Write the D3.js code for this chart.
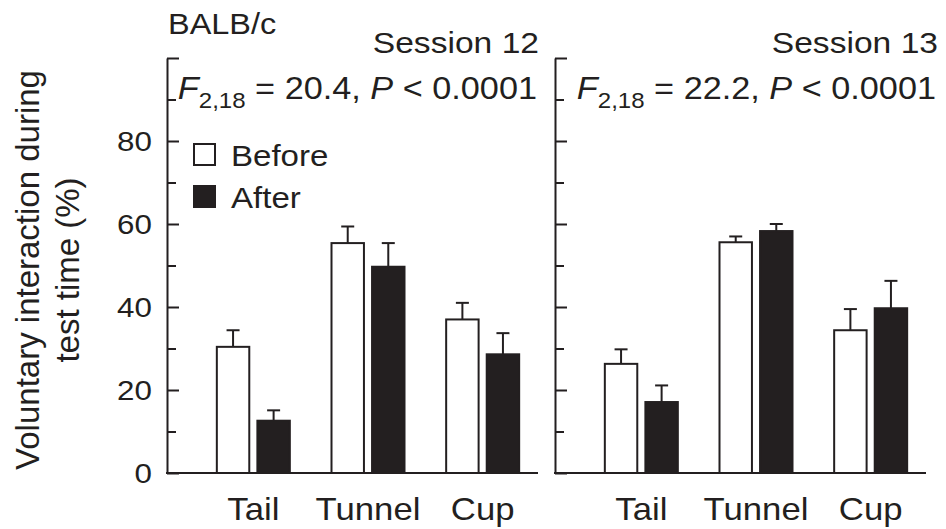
<!DOCTYPE html>
<html>
<head>
<meta charset="utf-8">
<script src="https://cdn.jsdelivr.net/npm/d3@7"></script>
<style>
  body { margin: 0; background: #fff; }
  svg { display: block; font-family: "Liberation Sans", Arial, Helvetica, sans-serif; }
</style>
</head>
<body>
<svg id="chart" width="946" height="529"></svg>
<script>
// Voluntary interaction (% of test time), mean + SEM, before vs after
const categories = ["Tail", "Tunnel", "Cup"];
const groups = ["Before", "After"];
const sessionTitles = ["Session 12", "Session 13"];
const statValues = ["20.4", "22.2"];

const session12Before = [30.4, 55.4, 37.0];
const session12After = [12.6, 49.7, 28.6];
const session12BeforeSem = [4.0, 4.0, 4.0];
const session12AfterSem = [2.5, 5.7, 5.1];

const session13Before = [26.3, 55.6, 34.4];
const session13After = [17.1, 58.3, 39.7];
const session13BeforeSem = [3.5, 1.4, 5.1];
const session13AfterSem = [4.0, 1.7, 6.6];

const majorTicks = [0, 20, 40, 60, 80, 100];
const minorTicks = [10, 30, 50, 70, 90];
const tickLabels = ["0", "20", "40", "60", "80", ""];

const INK = "#231f20";
const SX = 1.12; // horizontal text stretch

const svg = d3.select("#chart");

const panels = [
  { x0: 167, before: session12Before, after: session12After,
    beforeSem: session12BeforeSem, afterSem: session12AfterSem,
    title: sessionTitles[0], stat: statValues[0], textEnd: 539, labels: true },
  { x0: 555, before: session13Before, after: session13After,
    beforeSem: session13BeforeSem, afterSem: session13AfterSem,
    title: sessionTitles[1], stat: statValues[1], textEnd: 938, labels: false }
];

const panelWidth = 371;
const y = d3.scaleLinear().domain([0, 100]).range([473, 58]);

function stretchedText(g, x, yPos, anchor, size) {
  return g.append("text")
    .attr("transform", `translate(${x},${yPos}) scale(${SX},1)`)
    .attr("text-anchor", anchor)
    .attr("font-size", size)
    .attr("fill", INK);
}

panels.forEach(p => {
  const g = svg.append("g");

  const x0 = d3.scaleBand().domain(categories)
    .range([p.x0 + 29, p.x0 + 373]).padding(0);
  const x1 = d3.scaleBand().domain(groups)
    .range([-36.5, 36.5]).paddingInner(0.2).paddingOuter(0);

  // y axis: major ticks (inward)
  const major = d3.axisLeft(y).tickValues(majorTicks)
    .tickSize(-12).tickSizeOuter(0).tickPadding(0)
    .tickFormat((d, i) => p.labels ? tickLabels[i] : "");
  const ga = g.append("g").attr("transform", `translate(${p.x0},0)`).call(major);
  ga.select(".domain").attr("stroke", INK).attr("stroke-width", 2);
  ga.selectAll(".tick line").attr("stroke", INK).attr("stroke-width", 2);
  ga.selectAll(".tick text")
    .attr("x", 0).attr("dy", null)
    .attr("transform", `translate(-15,0) scale(${SX},1)`)
    .attr("dominant-baseline", "central")
    .attr("font-family", null)
    .attr("font-size", 28)
    .attr("fill", INK);

  // minor ticks
  const minor = d3.axisLeft(y).tickValues(minorTicks)
    .tickSize(-9).tickSizeOuter(0).tickFormat("");
  const gm = g.append("g").attr("transform", `translate(${p.x0},0)`).call(minor);
  gm.select(".domain").remove();
  gm.selectAll(".tick line").attr("stroke", INK).attr("stroke-width", 2);

  // baseline
  g.append("line")
    .attr("x1", p.x0 - 1).attr("x2", p.x0 + panelWidth)
    .attr("y1", y(0)).attr("y2", y(0))
    .attr("stroke", INK).attr("stroke-width", 2);

  const rows = categories.flatMap((c, i) => [
    { cat: c, grp: "Before", v: p.before[i], e: p.beforeSem[i] },
    { cat: c, grp: "After", v: p.after[i], e: p.afterSem[i] }
  ]);

  const cx = d => x0(d.cat) + x0.bandwidth() / 2 + x1(d.grp);

  // error bars (upper whisker only)
  g.selectAll(".err").data(rows).join("line")
    .attr("x1", d => cx(d) + x1.bandwidth() / 2)
    .attr("x2", d => cx(d) + x1.bandwidth() / 2)
    .attr("y1", d => y(d.v)).attr("y2", d => y(d.v + d.e))
    .attr("stroke", INK).attr("stroke-width", 2);
  g.selectAll(".cap").data(rows).join("line")
    .attr("x1", d => cx(d) + x1.bandwidth() / 2 - 6.5)
    .attr("x2", d => cx(d) + x1.bandwidth() / 2 + 6.5)
    .attr("y1", d => y(d.v + d.e)).attr("y2", d => y(d.v + d.e))
    .attr("stroke", INK).attr("stroke-width", 2);

  // bars
  g.selectAll(".bar").data(rows).join("rect")
    .attr("x", d => cx(d))
    .attr("y", d => y(d.v))
    .attr("width", x1.bandwidth())
    .attr("height", d => y(0) - y(d.v))
    .attr("fill", d => d.grp === "Before" ? "#fff" : INK)
    .attr("stroke", INK).attr("stroke-width", 2);

  // category labels
  categories.forEach(c => {
    stretchedText(g, x0(c) + x0.bandwidth() / 2, 520, "middle", 31).text(c);
  });

  // session title
  stretchedText(g, p.textEnd, 53, "end", 30).text(p.title);

  // F statistic
  const f = stretchedText(g, p.textEnd - 2, 99, "end", 30.6);
  f.append("tspan").attr("font-style", "italic").text("F");
  f.append("tspan").attr("font-size", 21.5).attr("dy", 9).text("2,18");
  f.append("tspan").attr("dy", -9).text(" = " + p.stat + ", ");
  f.append("tspan").attr("font-style", "italic").text("P");
  f.append("tspan").text(" < 0.0001");
});

// strain label
stretchedText(svg, 168, 34, "start", 29).text("BALB/c");

// legend
const legend = svg.append("g");
groups.forEach((grp, i) => {
  const ly = 144 + i * 42;
  legend.append("rect")
    .attr("x", 194).attr("y", ly).attr("width", 21).attr("height", 21)
    .attr("fill", grp === "Before" ? "#fff" : INK)
    .attr("stroke", INK).attr("stroke-width", 2);
  stretchedText(legend, 231, ly + 22, "start", 29.5).text(grp);
});

// y-axis title
const yt = svg.append("text")
  .attr("transform", "translate(39,270) rotate(-90)")
  .attr("text-anchor", "middle")
  .attr("font-size", 33)
  .attr("fill", INK);
yt.append("tspan").attr("x", 0).attr("y", 0).text("Voluntary interaction during");
yt.append("tspan").attr("x", 0).attr("y", 40).text("test time (%)");
</script>
</body>
</html>
